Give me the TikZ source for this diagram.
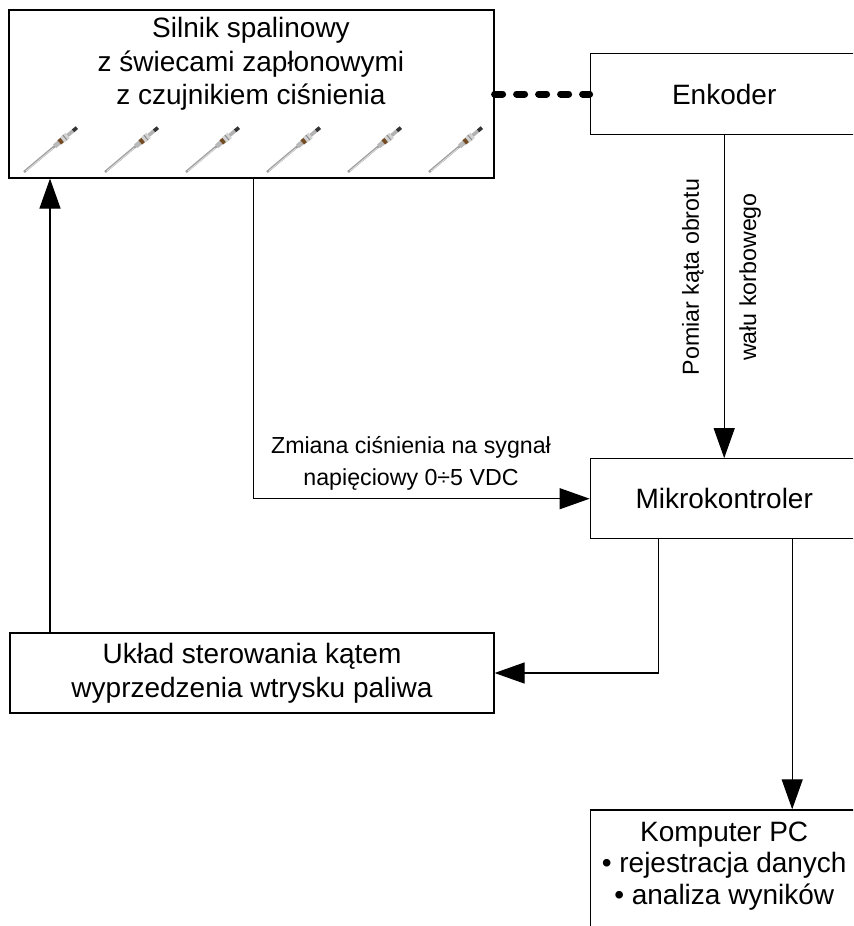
\documentclass[tikz,border=0pt]{standalone}
\usepackage{fontspec}
\setmainfont{Liberation Sans}
\usepackage{tikz}
\usetikzlibrary{positioning}
\usetikzlibrary{arrows.meta}

\tikzset{
  box/.style={draw, line width=0.6pt, rectangle, align=center, inner sep=0pt,
              font=\fontsize{14}{16.75}\selectfont},
  txt/.style={align=center, inner sep=0pt, font=\fontsize{14}{16.75}\selectfont},
  lbl/.style={align=center, inner sep=0pt, font=\fontsize{11.6}{16}\selectfont},
  arr/.style={line width=0.6pt, -{Triangle[length=15pt, width=10.5pt]}},
  dots/.style={line width=3.5pt, line cap=round, dash pattern=on 4pt off 7pt},
  plug/.pic={
    % rod, collar, hex and terminal of a glow plug
    \draw[line width=1.2pt, color=gray!75] (0,0) -- (40,0);
    \draw[line width=0.4pt, color=white!75!gray] (2,0.5) -- (38,0.5);
    \draw[line width=2.4pt, color=gray!55] (40,0) -- (46,0);
    \draw[line width=2.8pt, color=brown!60!black] (46,0) -- (50,0);
    \draw[line width=3.4pt, color=gray!35] (50,0) -- (57,0);
    \draw[line width=0.4pt, color=gray] (53.5,-3.4) -- (53.5,3.4);
    \draw[line width=1.8pt, color=gray!60] (57,0) -- (64,0);
    \draw[line width=1.8pt, color=black!80] (64,0) -- (69,0);
  }
}

\begin{document}
\begin{tikzpicture}[x=0.5pt, y=-0.5pt]
  \useasboundingbox (0,0) rectangle (853,926);
  \clip (0,0) rectangle (853,926);

  % engine with six glow plugs
  \node[box, minimum width=242.5pt, minimum height=84pt] (engine) at (251.5,94) {};
  \node[txt] (engineText) at (251,64) {Silnik spalinowy\\ z świecami zapłonowymi\\ z czujnikiem ciśnienia};
  \foreach \i in {0,...,5}
    \pic[rotate=40] at (24+81*\i,172) {plug};

  \node[box, minimum width=134pt, minimum height=40.5pt, right=47.5pt of engine] (enc) {Enkoder};
  \node[box, minimum width=134pt, minimum height=40pt, below=161.5pt of enc] (mcu) {Mikrokontroler};
  \node[box, minimum width=134pt, minimum height=80pt, below=135pt of mcu] (pc) {};
  \node[txt, font=\fontsize{14}{15.8}\selectfont, below=6pt of pc.north] (pcText)
    {Komputer PC\\ • rejestracja danych\\ • analiza wyników};
  \node[box, font=\fontsize{14}{17}\selectfont, minimum width=242pt, minimum height=40pt] (ctrl) at (252,673)
    {Układ sterowania kątem\\ wyprzedzenia wtrysku paliwa};

  % connections
  \draw[dots] (engine.east |- enc.west) -- (enc.west);
  \draw[arr] (enc.south) -- (mcu.north);
  \draw[arr] ([xshift=1pt]engine.south) |- (mcu.west);
  \draw[arr] ([xshift=-33pt]mcu.south) |- (ctrl.east);
  \draw[arr] ([xshift=34pt]mcu.south) coordinate (pcDrop) -- (pcDrop |- pc.north);
  \draw[arr] ([xshift=-101pt]ctrl.north) coordinate (ctrlUp) -- (ctrlUp |- engine.south);

  \node[lbl] (sigLabel) at (411,463) {Zmiana ciśnienia na sygnał\\ napięciowy 0÷5 VDC};
  \node[lbl, rotate=90] (angleLabel) at (693,277) {Pomiar kąta obrotu};
  \node[lbl, rotate=90] (shaftLabel) at (750,277) {wału korbowego};
\end{tikzpicture}
\end{document}
